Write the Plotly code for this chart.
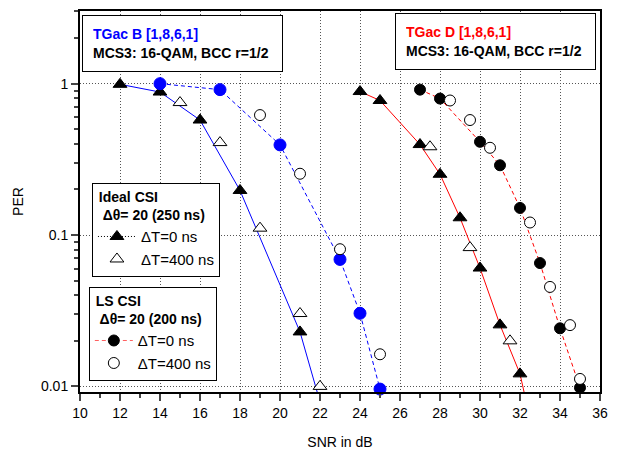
import plotly.graph_objects as go

# ---------------- data ----------------
# TGac B (blue)
b_ideal0_x = [12, 14, 16, 18, 21, 22]
b_ideal0_y = [0.99, 0.88, 0.575, 0.197, 0.0229, 0.0079]
b_ideal400_x = [15, 17, 19, 21, 22]
b_ideal400_y = [0.75, 0.408, 0.111, 0.0303, 0.0100]
b_ls0_x = [14, 17, 20, 23, 24, 25]
b_ls0_y = [1.0, 0.913, 0.394, 0.069, 0.0304, 0.0096]
b_ls400_x = [19, 21, 23, 25]
b_ls400_y = [0.62, 0.254, 0.0806, 0.0163]

# TGac D (red)
d_ideal0_x = [24, 25, 27, 28, 29, 30, 31, 32, 33]
d_ideal0_y = [0.887, 0.774, 0.396, 0.252, 0.13, 0.0605, 0.0255, 0.0121, 0.0031]
d_ideal400_x = [27.5, 29.5, 31.5]
d_ideal400_y = [0.383, 0.0826, 0.02]
d_ls0_x = [27, 28, 30, 31, 32, 33, 34, 35]
d_ls0_y = [0.913, 0.797, 0.413, 0.289, 0.151, 0.0653, 0.0242, 0.0098]
d_ls400_x = [28.5, 29.5, 30.5, 32.5, 33.5, 34.5, 35]
d_ls400_y = [0.774, 0.575, 0.377, 0.121, 0.0454, 0.0254, 0.0112]

x_ticks = [10, 12, 14, 16, 18, 20, 22, 24, 26, 28, 30, 32, 34, 36]
y_ticks = [0.01, 0.1, 1]
y_tick_text = ["0.01", "0.1", "1"]

# ---------------- styling ----------------
FONT = "Liberation Sans, Arial, Helvetica, sans-serif"
Y_LOG_RANGE = [-2.037, 0.48]
Y_MIN = 10 ** Y_LOG_RANGE[0]

BLUE = "#0000ff"
RED = "#ff0000"


def in_range(xs, ys):
    pts = [(x, y) for x, y in zip(xs, ys) if y >= Y_MIN * 0.97]
    return [p[0] for p in pts], [p[1] for p in pts]


fig = go.Figure()

# lines
fig.add_trace(go.Scatter(x=b_ideal0_x, y=b_ideal0_y, mode="lines",
                         line=dict(color=BLUE, width=1), showlegend=False, hoverinfo="skip"))
fig.add_trace(go.Scatter(x=b_ls0_x, y=b_ls0_y, mode="lines",
                         line=dict(color=BLUE, width=1, dash="4px,3px"), showlegend=False, hoverinfo="skip"))
fig.add_trace(go.Scatter(x=d_ideal0_x, y=d_ideal0_y, mode="lines",
                         line=dict(color=RED, width=1), showlegend=False, hoverinfo="skip"))
fig.add_trace(go.Scatter(x=d_ls0_x, y=d_ls0_y, mode="lines",
                         line=dict(color=RED, width=1, dash="4px,3px"), showlegend=False, hoverinfo="skip"))

tri_filled = dict(symbol="triangle-up", size=12, color="black", line=dict(color="black", width=1))
tri_open = dict(symbol="triangle-up", size=12, color="white", line=dict(color="black", width=1))
circ_blue = dict(symbol="circle", size=12, color=BLUE, line=dict(color=BLUE, width=1))
circ_black = dict(symbol="circle", size=11, color="black", line=dict(color="black", width=1))
circ_open = dict(symbol="circle", size=11, color="white", line=dict(color="black", width=1))

# markers
for xs, ys, mk in [
    (b_ideal0_x, b_ideal0_y, tri_filled),
    (d_ideal0_x, d_ideal0_y, tri_filled),
    (b_ls0_x, b_ls0_y, circ_blue),
    (d_ls0_x, d_ls0_y, circ_black),
    (b_ideal400_x, b_ideal400_y, tri_open),
    (d_ideal400_x, d_ideal400_y, tri_open),
    (b_ls400_x, b_ls400_y, circ_open),
    (d_ls400_x, d_ls400_y, circ_open),
]:
    mx, my = in_range(xs, ys)
    fig.add_trace(go.Scatter(x=mx, y=my, mode="markers", marker=mk,
                             cliponaxis=False, showlegend=False))

# legend entries (samples)
fig.add_trace(go.Scatter(x=[None], y=[None], mode="lines+markers", name="ΔT=0 ns",
                         line=dict(color="black", width=1, dash="1px,2px"),
                         marker=tri_filled, legend="legend"))
fig.add_trace(go.Scatter(x=[None], y=[None], mode="markers", name="ΔT=400 ns",
                         marker=tri_open, legend="legend"))
fig.add_trace(go.Scatter(x=[None], y=[None], mode="lines+markers", name="ΔT=0 ns",
                         line=dict(color="#ff6060", width=1, dash="4px,3px"),
                         marker=circ_black, legend="legend2"))
fig.add_trace(go.Scatter(x=[None], y=[None], mode="markers", name="ΔT=400 ns",
                         marker=circ_open, legend="legend2"))

leg_common = dict(xanchor="left", yanchor="top", bordercolor="black", borderwidth=1,
                  bgcolor="white", font=dict(family=FONT, size=15, color="black"),
                  tracegroupgap=0, itemwidth=38)

# page body has an 8px margin; figure is sized/margined to compensate
fig.update_layout(
    width=612, height=442,
    margin=dict(l=72, r=20, t=1, b=57),
    paper_bgcolor="white", plot_bgcolor="white",
    font=dict(family=FONT, size=14, color="black"),
    legend=dict(x=0.023, y=0.549,
                title=dict(text="<b> Ideal CSI</b><br>  <b>Δθ= 20 (250 ns)</b>",
                           font=dict(family=FONT, size=14)),
                **leg_common),
    legend2=dict(x=0.017, y=0.276,
                 title=dict(text="<b> LS CSI</b><br>  <b>Δθ= 20 (200 ns)</b>",
                            font=dict(family=FONT, size=14)),
                 **leg_common),
    xaxis=dict(range=[10, 36], tickvals=x_ticks, ticks="outside", ticklen=7, tickwidth=1.5,
               showline=True, linewidth=2, linecolor="black", mirror=True,
               showgrid=True, gridcolor="#555", griddash="1px,2px", gridwidth=1,
               zeroline=False, tickfont=dict(size=14),
               minor=dict(dtick=1, ticks="outside", ticklen=4, tickwidth=1.5, showgrid=False),
               title=dict(text="SNR in dB", font=dict(size=14), standoff=18)),
    yaxis=dict(type="log", range=Y_LOG_RANGE, tickvals=y_ticks, ticktext=y_tick_text,
               ticks="outside", ticklen=7, tickwidth=1.5,
               showline=True, linewidth=2, linecolor="black", mirror=True,
               showgrid=True, gridcolor="#555", griddash="1px,2px", gridwidth=1,
               zeroline=False, tickfont=dict(size=14),
               minor=dict(tickvals=[m * d for d in (0.01, 0.1, 1) for m in range(2, 10)],
                          ticks="outside", ticklen=4, tickwidth=1.5, showgrid=False),
               title=dict(text="PER", font=dict(size=14), standoff=14)),
)

box_common = dict(xref="paper", yref="paper", xanchor="left", yanchor="top", showarrow=False,
                  align="left", bordercolor="black", borderwidth=1, bgcolor="white",
                  borderpad=10, width=179, height=35, font=dict(family=FONT, size=14, color="black"))
fig.add_annotation(x=0.0038, y=0.9896,
                   text="<span style='color:#0000ff'><b>TGac B [1,8,6,1]</b></span><br><b>MCS3: 16-QAM, BCC r=1/2</b>",
                   **box_common)
fig.add_annotation(x=0.6058, y=0.9948,
                   text="<span style='color:#ff0000'><b>TGac D [1,8,6,1]</b></span><br><b>MCS3: 16-QAM, BCC r=1/2</b>",
                   **box_common)

fig.write_html("out.html")
